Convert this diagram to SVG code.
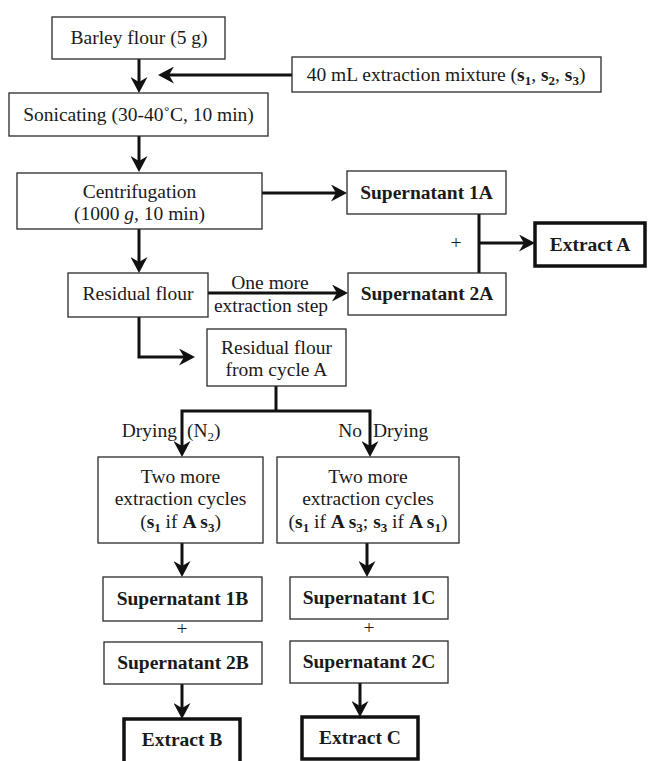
<svg xmlns="http://www.w3.org/2000/svg" width="648" height="761" viewBox="0 0 648 761">
<defs>
<style>
text{font-family:"Liberation Serif","Times New Roman",serif;font-size:19.5px;fill:#1a1a1a;text-anchor:middle}
.b{font-weight:bold}
.sub{font-size:13px}
rect{fill:#fff;stroke:#2a2a2a;stroke-width:1.3}
rect.thick{stroke:#111;stroke-width:3.5}
.c{fill:none;stroke:#111;stroke-width:3}
</style>
<marker id="ah" viewBox="0 0 16 17" refX="10" refY="8.5" markerWidth="16" markerHeight="17" markerUnits="userSpaceOnUse" orient="auto">
<path d="M0,0 L16,8.5 L0,17 L5,8.5 z" fill="#111"/>
</marker>
</defs>
<rect x="0" y="0" width="648" height="761" style="fill:#fff;stroke:none"/>

<g id="connectors">
<path class="c" d="M139,59 V87" marker-end="url(#ah)"/>
<path class="c" d="M292,75 H164" marker-end="url(#ah)"/>
<path class="c" d="M139,136 V166" marker-end="url(#ah)"/>
<path class="c" d="M139,229 V267" marker-end="url(#ah)"/>
<path class="c" d="M262,193 H341" marker-end="url(#ah)"/>
<path class="c" d="M479,214 V273"/>
<path class="c" d="M479,243 H529" marker-end="url(#ah)"/>
<path class="c" d="M208,293 H342" marker-end="url(#ah)"/>
<path class="c" d="M139,317 V357 H189" marker-end="url(#ah)"/>
<path class="c" d="M276,386 V411"/>
<path class="c" d="M182,451 V411 H370 V451" />
<path class="c" d="M182,445 V451" marker-end="url(#ah)"/>
<path class="c" d="M370,445 V451" marker-end="url(#ah)"/>
<path class="c" d="M182,543 V571" marker-end="url(#ah)"/>
<path class="c" d="M367,543 V571" marker-end="url(#ah)"/>
<path class="c" d="M182,684 V713" marker-end="url(#ah)"/>
<path class="c" d="M360,683 V711" marker-end="url(#ah)"/>
<text x="270" y="289">One more</text>
<text x="271" y="312">extraction step</text>
<text x="456" y="249">+</text>
<text x="177" y="437" style="text-anchor:end">Drying</text>
<text x="187" y="437" style="text-anchor:start">(N<tspan class="sub" dy="4">2</tspan><tspan dy="-4">)</tspan></text>
<text x="362" y="437" style="text-anchor:end">No</text>
<text x="373" y="437" style="text-anchor:start">Drying</text>
<text x="182" y="635">+</text>
<text x="369" y="634">+</text>
</g>

<g id="barley">
<rect x="52" y="17" width="173" height="42"/>
<text x="139" y="44">Barley flour (5 g)</text>
</g>

<g id="mixture">
<rect x="292" y="57" width="309" height="35"/>
<text x="446" y="81">40 mL extraction mixture (<tspan class="b">s</tspan><tspan class="b sub" dy="4">1</tspan><tspan dy="-4">, </tspan><tspan class="b">s</tspan><tspan class="b sub" dy="4">2</tspan><tspan dy="-4">, </tspan><tspan class="b">s</tspan><tspan class="b sub" dy="4">3</tspan><tspan dy="-4">)</tspan></text>
</g>

<g id="sonicating">
<rect x="9" y="93" width="259" height="43"/>
<text x="138.5" y="121">Sonicating (30-40˚C, 10 min)</text>
</g>

<g id="centrifugation">
<rect x="17" y="173" width="245" height="56"/>
<text x="139.5" y="198">Centrifugation</text>
<text x="139.5" y="220">(1000 <tspan font-style="italic">g</tspan>, 10 min)</text>
</g>

<g id="residual">
<rect x="68" y="273" width="140" height="44"/>
<text x="138" y="300">Residual flour</text>
</g>

<g id="sup1a">
<rect x="347" y="171" width="159" height="43"/>
<text class="b" x="426.5" y="199">Supernatant 1A</text>
</g>

<g id="sup2a">
<rect x="348" y="273" width="158" height="42"/>
<text class="b" x="427" y="300">Supernatant 2A</text>
</g>

<g id="extractA">
<rect class="thick" x="535" y="223" width="110" height="43"/>
<text class="b" x="590" y="251">Extract A</text>
</g>

<g id="residualA">
<rect x="207" y="329" width="139" height="57"/>
<text x="276.5" y="354">Residual flour</text>
<text x="276.5" y="376">from cycle A</text>
</g>

<g id="cyclesB">
<rect x="98" y="457" width="165" height="86"/>
<text x="180.5" y="483">Two more</text>
<text x="180.5" y="505">extraction cycles</text>
<text x="180.5" y="528">(<tspan class="b">s</tspan><tspan class="b sub" dy="4">1</tspan><tspan dy="-4"> if </tspan><tspan class="b">A s</tspan><tspan class="b sub" dy="4">3</tspan><tspan dy="-4">)</tspan></text>
</g>

<g id="cyclesC">
<rect x="277" y="457" width="182" height="86"/>
<text x="368" y="483">Two more</text>
<text x="368" y="505">extraction cycles</text>
<text x="368" y="528">(<tspan class="b">s</tspan><tspan class="b sub" dy="4">1</tspan><tspan dy="-4"> if </tspan><tspan class="b">A s</tspan><tspan class="b sub" dy="4">3</tspan><tspan dy="-4">; </tspan><tspan class="b">s</tspan><tspan class="b sub" dy="4">3</tspan><tspan dy="-4"> if </tspan><tspan class="b">A s</tspan><tspan class="b sub" dy="4">1</tspan><tspan dy="-4">)</tspan></text>
</g>

<g id="sup1b">
<rect x="103" y="577" width="159" height="44"/>
<text class="b" x="182.5" y="605">Supernatant 1B</text>
</g>

<g id="sup2b">
<rect x="104" y="642" width="158" height="42"/>
<text class="b" x="183" y="669">Supernatant 2B</text>
</g>

<g id="extractB">
<rect class="thick" x="124" y="719" width="116" height="60"/>
<text class="b" x="182" y="746">Extract B</text>
</g>

<g id="sup1c">
<rect x="290" y="577" width="158" height="42"/>
<text class="b" x="369" y="604">Supernatant 1C</text>
</g>

<g id="sup2c">
<rect x="290" y="641" width="158" height="42"/>
<text class="b" x="369" y="668">Supernatant 2C</text>
</g>

<g id="extractC">
<rect class="thick" x="302" y="717" width="116" height="42"/>
<text class="b" x="360" y="744">Extract C</text>
</g>
</svg>
